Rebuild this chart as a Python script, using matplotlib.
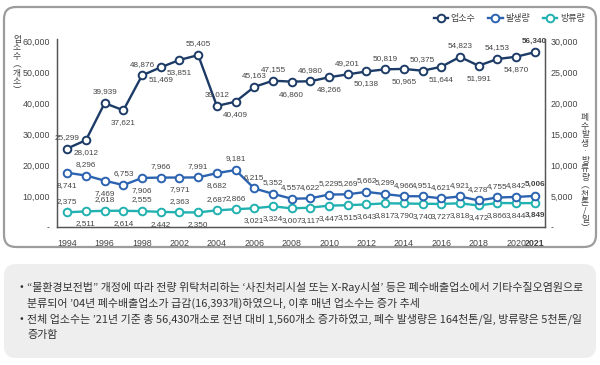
import matplotlib
matplotlib.use('Agg')
import matplotlib.pyplot as plt
from matplotlib.patches import FancyBboxPatch
from matplotlib.lines import Line2D

# data (2000, 2001 not shown in source)
years = ['1994', '1995', '1996', '1997', '1998', '1999', '2002', '2003', '2004', '2005',
         '2006', '2007', '2008', '2009', '2010', '2011', '2012', '2013', '2014', '2015',
         '2016', '2017', '2018', '2019', '2020', '2021']
tick_labels = ['1994', '1996', '1998', '2002', '2004', '2006', '2008', '2010', '2012',
               '2014', '2016', '2018', '2020', '2021']
facilities = [25299, 28012, 39939, 37621, 48876, 51469, 53851, 55405, 39012, 40409,
              45163, 47155, 46860, 46980, 48266, 49201, 50138, 50819, 50965, 50375,
              51644, 54823, 51991, 54153, 54870, 56340]
generated = [8741, 8296, 7469, 6753, 7906, 7966, 7971, 7991, 8682, 9181,
             6215, 5352, 4557, 4622, 5229, 5269, 5662, 5299, 4966, 4951,
             4621, 4921, 4278, 4755, 4842, 5006]
discharged = [2375, 2511, 2618, 2614, 2555, 2442, 2363, 2350, 2687, 2866,
              3021, 3324, 3007, 3117, 3447, 3515, 3643, 3817, 3790, 3740,
              3727, 3818, 3472, 3866, 3844, 3849]

# label side per point: 'a' above, 'b' below
side_fac = 'ababab' + 'baabaa' + 'bababababababa'
side_gen = 'bababababa' + 'a' * 16
side_dis = 'abababab' + 'aa' + 'b' * 16

NAVY = '#1c3b66'
BLUE = '#2c63b0'
TEAL = '#22b1b1'
TXT = '#444444'

plt.rcParams['font.family'] = ['Liberation Sans', 'Noto Sans CJK KR', 'DejaVu Sans']
KR = ['Noto Sans CJK KR', 'DejaVu Sans']

fig = plt.figure(figsize=(6, 3.65), dpi=100)

# background panels in pixel coordinates
bg = fig.add_axes([0, 0, 1, 1], zorder=-1)
bg.set_xlim(0, 600)
bg.set_ylim(365, 0)
bg.axis('off')
bg.add_patch(FancyBboxPatch((4, 7), 592, 240, boxstyle='round,pad=0,rounding_size=12',
                            fc='white', ec='#9c9c9c', lw=1.6))
bg.add_patch(FancyBboxPatch((4, 264), 592, 94, boxstyle='round,pad=0,rounding_size=12',
                            fc='#eeeeee', ec='none'))

ax = fig.add_axes([57 / 600, 138 / 365, 488 / 600, 188 / 365])
ax2 = ax.twinx()
x = list(range(len(years)))

ax.set_xlim(-0.55, len(years) - 0.45)
ax.set_ylim(0, 60600)
ax2.set_ylim(0, 30300)

for a in (ax, ax2):
    a.spines['top'].set_visible(False)
    for s in ('left', 'right', 'bottom'):
        a.spines[s].set_color('#555555')
        a.spines[s].set_linewidth(0.9)
    a.tick_params(length=0, labelsize=6.4, colors=TXT)

ax.set_yticks(range(0, 60001, 10000))
ax.set_yticklabels(['-'] + [f'{v:,}' for v in range(10000, 60001, 10000)])
ax2.set_yticks(range(0, 30001, 5000))
ax2.set_yticklabels(['-'] + [f'{v:,}' for v in range(5000, 30001, 5000)])
ax.tick_params(axis='y', pad=5)
ax2.tick_params(axis='y', pad=4)

tick_pos = list(range(0, len(years) - 1, 2)) + [len(years) - 1]
ax.set_xticks(tick_pos)
ax.set_xticklabels(tick_labels)
ax.tick_params(axis='x', pad=9)
ax.get_xticklabels()[-1].set_fontweight('bold')

style = dict(marker='o', markersize=5.5, markerfacecolor='white', markeredgewidth=1.4, lw=1.7)
ax.plot(x, facilities, color=NAVY, zorder=5, **style)
ax2.plot(x, generated, color=BLUE, zorder=4, **style)
ax2.plot(x, discharged, color=TEAL, zorder=3, **style)


def put_labels(axis, vals, sides):
    for i, (v, s) in enumerate(zip(vals, sides)):
        dy = 8 if s == 'a' else -9
        axis.annotate(f'{v:,}', (i, v), xytext=(0, dy), textcoords='offset points',
                      ha='center', va='center', fontsize=5.9, color=TXT,
                      fontweight='bold' if i == len(vals) - 1 else 'normal', zorder=6)


put_labels(ax, facilities, side_fac)
put_labels(ax2, generated, side_gen)
put_labels(ax2, discharged, side_dis)

# stacked (vertical) axis titles
left_title = '업소수︵개소︶'
right_title = '폐수 발생·방류량︵천톤/일︶'
bg.text(17, 35, '\n'.join(left_title), ha='center', va='top', fontsize=6.3,
        color=TXT, family=KR, linespacing=0.93)
bg.text(585, 113, '\n'.join(right_title.replace(' ', '')), ha='center', va='top',
        fontsize=6.3, color=TXT, family=KR, linespacing=0.93)

# legend
handles = [Line2D([], [], color=c, **style) for c in (NAVY, BLUE, TEAL)]
leg = fig.legend(handles, ['업소수', '발생량', '방류량'], loc='center right',
                 bbox_to_anchor=(0.988, 0.95), ncol=3, frameon=False,
                 prop={'family': KR, 'size': 6.5}, handlelength=1.6,
                 handletextpad=0.3, columnspacing=1.4)
for t in leg.get_texts():
    t.set_color(TXT)

notes = [
    ('• ', '“물환경보전법” 개정에 따라 전량 위탁처리하는 ‘사진처리시설 또는 X-Ray시설’ 등은 폐수배출업소에서 기타수질오염원으로'),
    ('', '분류되어 ’04년 폐수배출업소가 급감(16,393개)하였으나, 이후 매년 업소수는 증가 추세'),
    ('• ', '전체 업소수는 ’21년 기준 총 56,430개소로 전년 대비 1,560개소 증가하였고, 폐수 발생량은 164천톤/일, 방류량은 5천톤/일'),
    ('', '증가함'),
]
ly = 287
for b, line in notes:
    if b:
        bg.text(20, ly, '•', ha='left', va='center', fontsize=7.9, color='#333333', family=KR)
    bg.text(27, ly, line, ha='left', va='center', fontsize=7.9, color='#333333', family=KR)
    ly += 16

fig.savefig('out.png', dpi=100)
